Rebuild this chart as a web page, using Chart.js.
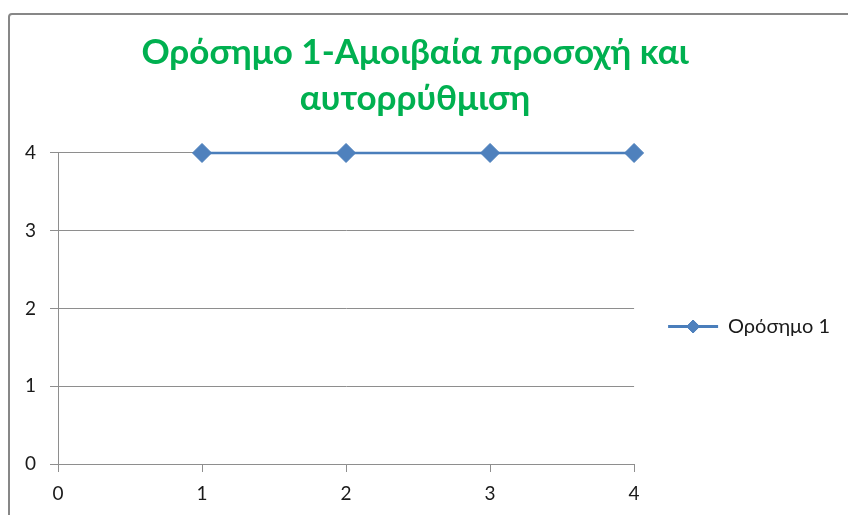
<!DOCTYPE html>
<html>
<head>
<meta charset="utf-8">
<script src="https://cdn.jsdelivr.net/npm/chart.js@4"></script>
<style>
  html, body { margin: 0; padding: 0; background: #ffffff; }
  #wrap { position: relative; width: 848px; height: 515px; }
</style>
</head>
<body>
<div id="wrap"><canvas id="c" width="848" height="515"></canvas></div>
<script>
// Chart data
const titleLines = ['Ορόσημο 1-Αμοιβαία προσοχή και', 'αυτορρύθμιση'];
const seriesName = 'Ορόσημο 1';
const xValues = [1, 2, 3, 4];
const yValues = [4, 4, 4, 4];
const xTicks = [0, 1, 2, 3, 4];
const yTicks = [0, 1, 2, 3, 4];

const FONT = "Lato, 'Noto Sans', sans-serif";
const LINE_BLUE = '#4A7EBB';
const MARKER_BLUE = '#4F81BD';
const GRID = '#8e8e8e';
const TEXT = '#1a1a1a';

// Outer frame of the chart object
const framePlugin = {
  id: 'frame',
  beforeDraw(chart) {
    const ctx = chart.ctx;
    ctx.save();
    ctx.fillStyle = '#ffffff';
    ctx.fillRect(0, 0, chart.width, chart.height);
    ctx.strokeStyle = '#878787';
    ctx.lineWidth = 2;
    ctx.beginPath();
    ctx.roundRect(9, 14, 900, 600, 3);
    ctx.stroke();
    ctx.restore();
  }
};

// Fine placement of the title and of the legend block beside the plot
const placePlugin = {
  id: 'place',
  afterLayout(chart) {
    const lg = chart.legend;
    if (lg) {
      const dx = 24, dy = 69;
      lg.left += dx; lg.right += dx;
      lg.top += dy; lg.bottom += dy;
    }
    const t = chart.titleBlock;
    if (t) {
      t.left += 7; t.right += 7;
      t.top += 1; t.bottom += 1;
    }
  }
};

// Legend symbol: a line segment with a diamond marker in its middle
const legendMarkerPlugin = {
  id: 'legendMarker',
  afterDraw(chart) {
    const lg = chart.legend;
    if (!lg || !lg.legendHitBoxes) return;
    const ctx = chart.ctx;
    const bw = lg.options.labels.boxWidth;
    lg.legendHitBoxes.forEach(hb => {
      const cx = hb.left + bw / 2;
      const cy = hb.top + hb.height / 2;
      ctx.save();
      ctx.fillStyle = MARKER_BLUE;
      ctx.strokeStyle = LINE_BLUE;
      ctx.lineWidth = 1;
      const r = 6.5;
      ctx.beginPath();
      ctx.moveTo(cx, cy - r);
      ctx.lineTo(cx + r, cy);
      ctx.lineTo(cx, cy + r);
      ctx.lineTo(cx - r, cy);
      ctx.closePath();
      ctx.fill();
      ctx.stroke();
      ctx.restore();
    });
  }
};

new Chart(document.getElementById('c'), {
  type: 'line',
  data: {
    datasets: [{
      label: seriesName,
      data: xValues.map((x, i) => ({ x: x, y: yValues[i] })),
      borderColor: LINE_BLUE,
      backgroundColor: LINE_BLUE,
      borderWidth: 2.5,
      pointStyle: 'rectRot',
      pointRadius: 9.5,
      pointHoverRadius: 9.5,
      pointBackgroundColor: MARKER_BLUE,
      pointBorderColor: LINE_BLUE,
      pointBorderWidth: 1,
      tension: 0,
      clip: false
    }]
  },
  options: {
    responsive: false,
    animation: false,
    events: [],
    layout: { padding: { left: 0, right: 32, top: 0, bottom: 0 } },
    plugins: {
      title: {
        display: true,
        text: titleLines,
        color: '#00B050',
        font: { family: FONT, size: 35, weight: 'bold', lineHeight: 1.314 },
        padding: { top: 29, bottom: 32 }
      },
      legend: {
        display: true,
        position: 'right',
        align: 'center',
        labels: {
          color: TEXT,
          font: { family: FONT, size: 20 },
          boxWidth: 50,
          boxHeight: 3,
          padding: 10,
          generateLabels(chart) {
            return chart.data.datasets.map((ds, i) => ({
              text: ds.label,
              fillStyle: LINE_BLUE,
              strokeStyle: LINE_BLUE,
              lineWidth: 0,
              datasetIndex: i,
              fontColor: TEXT
            }));
          }
        }
      },
      tooltip: { enabled: false }
    },
    scales: {
      x: {
        type: 'linear',
        min: xTicks[0],
        max: xTicks[xTicks.length - 1],
        afterBuildTicks(scale) { scale.ticks = xTicks.map(v => ({ value: v })); },
        afterFit(scale) { scale.height = 51; },
        grid: { drawOnChartArea: false, drawTicks: true, tickLength: 8, color: GRID },
        border: { display: true, color: GRID, width: 1 },
        ticks: { color: TEXT, font: { family: FONT, size: 19 }, padding: 10 }
      },
      y: {
        type: 'linear',
        min: yTicks[0],
        max: yTicks[yTicks.length - 1],
        afterBuildTicks(scale) { scale.ticks = yTicks.map(v => ({ value: v })); },
        afterFit(scale) { scale.width = 58; },
        grid: { drawOnChartArea: true, drawTicks: true, tickLength: 8, color: GRID },
        border: { display: true, color: GRID, width: 1 },
        ticks: { color: TEXT, font: { family: FONT, size: 19 }, padding: 14 }
      }
    }
  },
  plugins: [framePlugin, placePlugin, legendMarkerPlugin]
});
</script>
</body>
</html>
